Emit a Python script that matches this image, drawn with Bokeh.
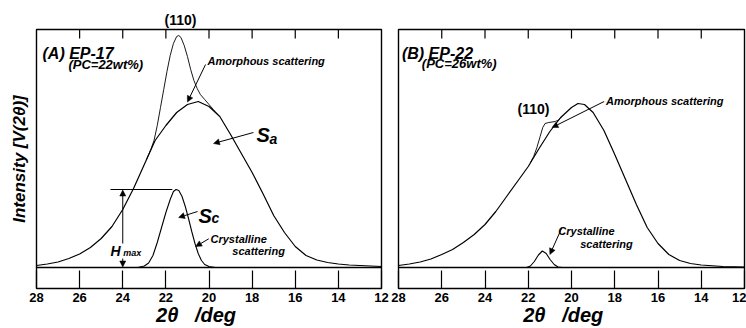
from bokeh.plotting import figure
from bokeh.models import Range1d, LinearAxis, FixedTicker, Span, Label, Arrow, NormalHead
from bokeh.layouts import row
from bokeh.embed import file_html
from bokeh.resources import INLINE

# ---------------- data ----------------
# Panel A : EP-17, amorphous scattering Sa
a_amor_x = [28.0, 27.5, 27.0, 26.5, 26.0, 25.5, 25.0, 24.5, 24.0, 23.5, 23.0, 22.5, 22.0,
            21.5, 21.0, 20.5, 20.0, 19.5, 19.0, 18.5, 18.0, 17.5, 17.0, 16.5, 16.0, 15.5,
            15.0, 14.5, 14.0, 13.5, 13.0, 12.5, 12.0]
a_amor_y = [2, 3.5, 5.5, 9, 13.5, 20, 29, 41, 58, 79, 103, 127, 142,
            155, 163, 166, 161, 151, 133, 114, 95, 74, 52, 35, 21, 12,
            7.5, 5, 3.5, 2.5, 2, 1.5, 1]
# Panel A : total curve around the (110) reflection
a_total_x = [22.90, 22.70, 22.55, 22.40, 22.25, 22.10, 21.95, 21.80, 21.65, 21.50, 21.40,
             21.30, 21.15, 21.00, 20.85, 20.70, 20.55, 20.40, 20.20, 20.00, 19.80, 19.60]
a_total_y = [108, 118, 127, 142, 160, 178, 196, 212, 224, 231, 232,
             230, 222, 211, 198, 187, 179, 173, 168, 163, 158, 153]
# Panel A : crystalline scattering Sc
a_cryst_x = [23.30, 23.00, 22.80, 22.60, 22.40, 22.20, 22.00, 21.80, 21.65, 21.53, 21.40,
             21.25, 21.10, 20.95, 20.80, 20.65, 20.50, 20.35, 20.20, 20.00, 19.70]
a_cryst_y = [0, 1.5, 4.5, 12, 25, 40, 55, 68, 76, 78, 77,
             71, 61, 49, 36, 24, 14, 7, 3, 1, 0]

# Panel B : EP-22, amorphous scattering
b_amor_x = [28.0, 27.5, 27.0, 26.5, 26.0, 25.5, 25.0, 24.5, 24.0, 23.5, 23.0, 22.5, 22.0,
            21.5, 21.0, 20.5, 20.0, 19.7, 19.4, 19.0, 18.5, 18.0, 17.5, 17.0, 16.5, 16.0,
            15.5, 15.0, 14.5, 14.0, 13.0, 12.0]
b_amor_y = [2, 3.5, 5.5, 8.5, 13, 18, 25, 33, 43, 56, 71, 86, 101,
            119, 136, 150, 160, 164, 163, 155, 137, 113, 88, 63, 40, 24,
            13, 7, 4, 2.5, 1, 0.3]
# Panel B : total curve with the (110) shoulder
b_total_x = [21.90, 21.75, 21.60, 21.45, 21.33, 21.22, 21.05, 20.90, 20.75, 20.60, 20.45]
b_total_y = [105, 111, 120, 131, 140, 144, 145, 145.5, 146, 147.5, 151]
# Panel B : crystalline scattering
b_cryst_x = [22.08, 21.90, 21.72, 21.53, 21.35, 21.17, 20.99, 20.80, 20.62, 20.43]
b_cryst_y = [0, 1.5, 6, 12.5, 16.5, 14, 8, 3, 0.5, 0]

tick_values = [28, 26, 24, 22, 20, 18, 16, 14, 12]
inner_ticks = [26, 24, 22, 20, 18, 16, 14]
x_title = "2\u03b8\u00a0\u00a0\u00a0/deg"
y_title = "Intensity [V(2\u03b8)]"
peak_label = "(110)"

X_LO, X_HI = 28, 12
Y_LO, Y_HI = -21, 238
TOP_TICK = 9          # length of the inward top ticks (1 y unit = 1 px)

FONT = "Liberation Sans"


def make_panel(width, border_left, border_right, with_ylabel, top_label_at, xtitle_at):
    p = figure(width=width, height=328,
               min_border_left=border_left, min_border_right=border_right,
               min_border_top=29, min_border_bottom=40,
               x_range=Range1d(X_LO, X_HI), y_range=Range1d(Y_LO, Y_HI),
               output_backend="svg", toolbar_location=None,
               y_axis_location="left" if with_ylabel else None)
    p.grid.visible = False
    p.outline_line_color = "black"
    p.outline_line_width = 1.4
    p.background_fill_color = "white"
    p.border_fill_color = "white"

    # bottom axis: inward ticks + numbers
    xa = p.xaxis[0]
    xa.ticker = FixedTicker(ticks=tick_values)
    xa.major_tick_in = 18
    xa.major_tick_out = 0
    xa.major_tick_line_width = 1.2
    xa.minor_tick_line_color = None
    xa.axis_line_color = None
    xa.major_label_standoff = 4
    xa.major_label_text_font = FONT
    xa.major_label_text_font_style = "bold"
    xa.major_label_text_font_size = "13px"
    xa.major_label_text_color = "black"

    # second bottom axis carrying the x title
    xt = LinearAxis(ticker=FixedTicker(ticks=[xtitle_at]),
                    major_label_overrides={xtitle_at: x_title},
                    major_tick_line_color=None, minor_tick_line_color=None,
                    axis_line_color=None, major_tick_in=0, major_tick_out=0,
                    major_label_standoff=-1, major_label_text_font=FONT,
                    major_label_text_font_style="bold italic",
                    major_label_text_font_size="20px", major_label_text_color="black")
    p.add_layout(xt, "below")

    # top axis only carries the peak label above the frame
    if top_label_at is not None:
        top = LinearAxis(ticker=FixedTicker(ticks=[top_label_at]),
                         major_label_overrides={top_label_at: peak_label},
                         major_label_text_color="black",
                         major_tick_line_color=None, minor_tick_line_color=None,
                         major_tick_in=0, major_tick_out=0, axis_line_color=None,
                         major_label_standoff=2, major_label_text_font=FONT,
                         major_label_text_font_style="bold",
                         major_label_text_font_size="14px")
        p.add_layout(top, "above")

    # inward ticks along the top edge, at the tick positions
    n = len(inner_ticks)
    p.segment(x0=inner_ticks, y0=[Y_HI] * n, x1=inner_ticks, y1=[Y_HI - TOP_TICK] * n,
              line_color="black", line_width=1.2)

    if with_ylabel:
        ya = p.yaxis[0]
        ya.ticker = FixedTicker(ticks=[])
        ya.major_tick_line_color = None
        ya.minor_tick_line_color = None
        ya.major_tick_in = 0
        ya.major_tick_out = 0
        ya.axis_line_color = None
        ya.major_label_standoff = 0
        ya.axis_label = y_title
        ya.axis_label_text_font = FONT
        ya.axis_label_text_font_style = "bold italic"
        ya.axis_label_text_font_size = "17px"
        ya.axis_label_standoff = 8
        ya.axis_label_text_color = "black"

    p.add_layout(Span(location=0, dimension="width", line_color="black", line_width=1.4))
    return p


def label(p, x, y, text, size, align="left", style="bold italic"):
    p.add_layout(Label(x=x, y=y, text=text, text_font=FONT, text_font_style=style,
                       text_font_size=f"{size}px", text_align=align,
                       text_baseline="middle", text_color="black"))


def arrow(p, x0, y0, x1, y1, head=True):
    end = NormalHead(size=6, fill_color="black", line_color="black", line_width=0.5) if head else None
    p.add_layout(Arrow(end=end, x_start=x0, y_start=y0, x_end=x1, y_end=y1,
                       line_color="black", line_width=1))


# ---------------- panel A ----------------
p1 = make_panel(390, 36, 9, True, 21.32, 20.6)
p1.line(a_amor_x, a_amor_y, line_color="black", line_width=1.2)
p1.line(a_total_x, a_total_y, line_color="black", line_width=0.9)
p1.line(a_cryst_x, a_cryst_y, line_color="black", line_width=1.1)

hmax = max(a_cryst_y)
p1.segment(x0=[24.57], y0=[hmax], x1=[21.70], y1=[hmax], line_color="black", line_width=1.1)
arrow(p1, 24.0, 24, 24.0, hmax - 0.5)
arrow(p1, 24.0, 9, 24.0, 0.5)
label(p1, 24.57, 17, "H", 14)
label(p1, 23.98, 15, "max", 9)

label(p1, 27.72, 214, "(A) EP-17", 16)
label(p1, 26.52, 203, "(PC=22wt%)", 13)
label(p1, 20.07, 207, "Amorphous scattering", 11)
arrow(p1, 20.16, 203, 21.0, 165.5)
label(p1, 17.80, 132.5, "S", 20)
label(p1, 17.19, 129, "a", 14)
arrow(p1, 17.94, 135, 19.79, 124)
label(p1, 20.49, 52, "S", 20)
label(p1, 19.88, 50, "c", 14)
arrow(p1, 20.53, 56, 21.41, 50)
label(p1, 19.93, 29, "Crystalline", 11)
label(p1, 18.92, 17, "scattering", 11)
arrow(p1, 20.01, 28.7, 20.62, 21)

# ---------------- panel B ----------------
p2 = make_panel(356, 8, 2, False, None, 20.38)
p2.line(b_amor_x, b_amor_y, line_color="black", line_width=1.2)
p2.line(b_total_x, b_total_y, line_color="black", line_width=0.9)
p2.line(b_cryst_x, b_cryst_y, line_color="black", line_width=1.1)

label(p2, 27.84, 214, "(B) EP-22", 16)
label(p2, 26.92, 204, "(PC=26wt%)", 13)
label(p2, 21.76, 159, peak_label, 14, align="center", style="bold")
label(p2, 18.40, 167, "Amorphous scattering", 11)
arrow(p2, 18.49, 166, 20.9, 140)
label(p2, 20.61, 37, "Crystalline", 11)
label(p2, 19.60, 24, "scattering", 11)
arrow(p2, 20.44, 40, 21.0, 13)

layout = row(p1, p2)
open("out.html", "w").write(file_html(layout, INLINE))
